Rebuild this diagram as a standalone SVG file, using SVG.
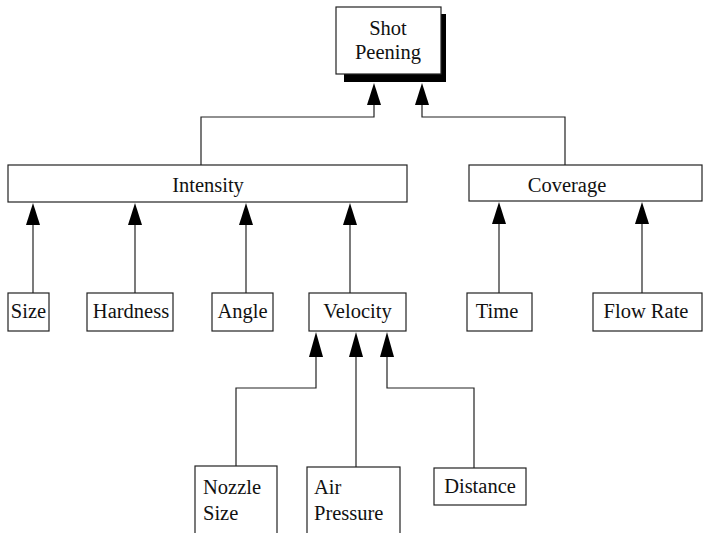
<svg xmlns="http://www.w3.org/2000/svg" width="703" height="533" viewBox="0 0 703 533">
<style>
.box{fill:#fff;stroke:#222;stroke-width:1.2}
.t{font-family:"Liberation Serif","Times New Roman",serif;font-size:20.5px;fill:#111}
.c{text-anchor:middle}
.ln{fill:none;stroke:#222;stroke-width:1.2}
.ah{fill:#000}
</style>
<rect width="703" height="533" fill="#fff"/>
<g id="connectors">
<path class="ln" d="M201 166 V117 H374 V100"/>
<path class="ln" d="M565 166 V117 H422 V100"/>
<path class="ah" d="M374 83 L381 105 L367 105 Z"/>
<path class="ah" d="M422 83 L429 105 L415 105 Z"/>
<path class="ln" d="M33 293 V224"/><path class="ah" d="M33 203 L40 225 L26 225 Z"/>
<path class="ln" d="M135 293 V224"/><path class="ah" d="M135 203 L142 225 L128 225 Z"/>
<path class="ln" d="M246 293 V224"/><path class="ah" d="M246 203 L253 225 L239 225 Z"/>
<path class="ln" d="M350 293 V224"/><path class="ah" d="M350 203 L357 225 L343 225 Z"/>
<path class="ln" d="M499 293 V224"/><path class="ah" d="M499 202 L506 224 L492 224 Z"/>
<path class="ln" d="M642 293 V224"/><path class="ah" d="M642 202 L649 224 L635 224 Z"/>
<path class="ln" d="M236 466 V388 H316 V356"/><path class="ah" d="M316 332 L323 357 L309 357 Z"/>
<path class="ln" d="M356 467 V356"/><path class="ah" d="M356 332 L363 357 L349 357 Z"/>
<path class="ln" d="M474 468 V388 H387 V356"/><path class="ah" d="M387 332 L394 357 L380 357 Z"/>
</g>
<g id="shot-peening">
<rect x="344" y="14" width="102" height="68" fill="#000"/>
<rect class="box" x="336" y="7" width="105" height="67"/>
<text class="t c" x="388" y="35">Shot</text>
<text class="t c" x="388" y="59">Peening</text>
</g>
<g id="intensity">
<rect class="box" x="8" y="165" width="399" height="37"/>
<text class="t c" x="208" y="192">Intensity</text>
</g>
<g id="coverage">
<rect class="box" x="469" y="165" width="233" height="36"/>
<text class="t c" x="567" y="192">Coverage</text>
</g>
<g id="size">
<rect class="box" x="8" y="293" width="41" height="38"/>
<text class="t c" x="28.5" y="318">Size</text>
</g>
<g id="hardness">
<rect class="box" x="87" y="293" width="86" height="38"/>
<text class="t c" x="131" y="318">Hardness</text>
</g>
<g id="angle">
<rect class="box" x="212" y="293" width="61" height="38"/>
<text class="t c" x="242.5" y="318">Angle</text>
</g>
<g id="velocity">
<rect class="box" x="309" y="293" width="97" height="38"/>
<text class="t c" x="357.5" y="318">Velocity</text>
</g>
<g id="time">
<rect class="box" x="467" y="293" width="65" height="38"/>
<text class="t c" x="497" y="318">Time</text>
</g>
<g id="flow-rate">
<rect class="box" x="593" y="293" width="109" height="38"/>
<text class="t c" x="646" y="318">Flow Rate</text>
</g>
<g id="nozzle-size">
<rect class="box" x="195" y="466" width="82" height="74"/>
<text class="t" x="203" y="494">Nozzle</text>
<text class="t" x="203" y="520">Size</text>
</g>
<g id="air-pressure">
<rect class="box" x="307" y="467" width="93" height="73"/>
<text class="t" x="314" y="494">Air</text>
<text class="t" x="314" y="520">Pressure</text>
</g>
<g id="distance">
<rect class="box" x="434" y="468" width="92" height="37"/>
<text class="t c" x="480" y="493">Distance</text>
</g>
</svg>
